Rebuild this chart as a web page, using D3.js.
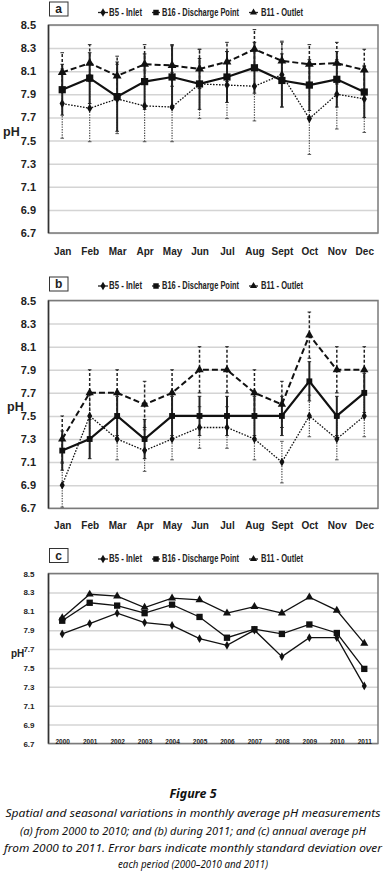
<!DOCTYPE html>
<html>
<head>
<meta charset="utf-8">
<script src="https://cdn.jsdelivr.net/npm/d3@7"></script>
<style>
  body { margin: 0; background: #fff; }
  svg { display: block; }
  .tick text { font-family: "Liberation Sans", Arial, sans-serif; font-weight: bold; fill: #222; }
  .legend text { font-family: "Liberation Sans", Arial, sans-serif; font-weight: bold; font-size: 9.5px; fill: #222; }
  .caption { font-family: "Noto Sans", "Open Sans", sans-serif; font-style: italic; fill: #111; }
</style>
</head>
<body>
<div id="vis"></div>
<script>
/* Figure 5: pH at three sampling points, three panels */

// Categories
var months = ['Jan', 'Feb', 'Mar', 'Apr', 'May', 'Jun', 'Jul', 'Aug', 'Sept', 'Oct', 'Nov', 'Dec'];
var years = ['2000', '2001', '2002', '2003', '2004', '2005', '2006', '2007', '2008', '2009', '2010', '2011'];
var yTicks = [6.7, 6.9, 7.1, 7.3, 7.5, 7.7, 7.9, 8.1, 8.3, 8.5];
var seriesNames = ['B5 - Inlet', 'B16 - Discharge Point', 'B11 - Outlet'];

// (a) monthly averages 2000-2010 with standard deviations
var aB5 = [7.82, 7.78, 7.86, 7.80, 7.79, 7.99, 7.98, 7.97, 8.07, 7.69, 7.90, 7.86];
var aB16 = [7.94, 8.04, 7.88, 8.01, 8.05, 7.99, 8.05, 8.13, 8.02, 7.98, 8.03, 7.92];
var aB11 = [8.09, 8.17, 8.06, 8.16, 8.15, 8.12, 8.18, 8.29, 8.19, 8.16, 8.17, 8.11];
var aB5sd = [0.30, 0.29, 0.30, 0.31, 0.30, 0.30, 0.29, 0.30, 0.28, 0.31, 0.30, 0.29];
var aB16sd = [0.22, 0.22, 0.30, 0.24, 0.27, 0.22, 0.22, 0.22, 0.23, 0.22, 0.24, 0.22];
var aB11sd = [0.17, 0.16, 0.17, 0.17, 0.18, 0.17, 0.17, 0.17, 0.17, 0.17, 0.18, 0.18];

// (b) monthly values during 2011 with standard deviations
var bB5 = [6.9, 7.5, 7.3, 7.2, 7.3, 7.4, 7.4, 7.3, 7.1, 7.5, 7.3, 7.5];
var bB16 = [7.2, 7.3, 7.5, 7.3, 7.5, 7.5, 7.5, 7.5, 7.5, 7.8, 7.5, 7.7];
var bB11 = [7.3, 7.7, 7.7, 7.6, 7.7, 7.9, 7.9, 7.7, 7.6, 8.2, 7.9, 7.9];
var bB5sd = [0.19, 0.18, 0.18, 0.18, 0.18, 0.18, 0.18, 0.18, 0.18, 0.18, 0.18, 0.18];
var bB16sd = [0.17, 0.17, 0.17, 0.17, 0.17, 0.17, 0.17, 0.17, 0.17, 0.17, 0.17, 0.17];
var bB11sd = [0.2, 0.2, 0.2, 0.2, 0.2, 0.2, 0.2, 0.2, 0.2, 0.2, 0.2, 0.2];

// (c) annual averages 2000-2011
var cB5 = [7.86, 7.97, 8.08, 7.98, 7.95, 7.81, 7.74, 7.90, 7.62, 7.82, 7.82, 7.31];
var cB16 = [8.00, 8.19, 8.16, 8.08, 8.17, 8.04, 7.82, 7.91, 7.86, 7.96, 7.87, 7.49];
var cB11 = [8.03, 8.28, 8.26, 8.14, 8.24, 8.22, 8.08, 8.15, 8.08, 8.25, 8.11, 7.76];

var W = 386, H = 873;
var left = 48.5, right = 378;

var svg = d3.select('#vis').append('svg')
    .attr('width', W)
    .attr('height', H);

// line / marker styles per series (B5, B16, B11)
var styles = [
    {dash: '1.6,1.4', width: 1.3, bar: '#555', barDash: '1.4,1.2', barWidth: 1.2, symbol: d3.symbolDiamond},
    {dash: null, width: 2.2, bar: '#222', barDash: null, barWidth: 2, symbol: d3.symbolSquare},
    {dash: '6,3', width: 2, bar: '#222', barDash: '3,2', barWidth: 1.5, symbol: d3.symbolTriangle}
];

var drawPanel = function(o) {
    var g = svg.append('g');

    var xScale = d3.scalePoint()
        .domain(o.cats)
        .range([left, right])
        .padding(0.5);

    var yScale = d3.scaleLinear()
        .domain([6.7, 8.5])
        .range([o.bottom, o.top]);

    // gridlines
    g.append('g')
        .attr('transform', 'translate(' + left + ',0)')
        .call(d3.axisLeft(yScale).tickValues(yTicks).tickSize(-(right - left)).tickFormat(''))
        .call(function(s) { s.select('.domain').remove(); })
        .selectAll('line')
        .attr('stroke', '#d4d4d4')
        .attr('stroke-width', 1.5);

    // plot frame
    g.append('rect')
        .attr('x', left)
        .attr('y', o.top)
        .attr('width', right - left)
        .attr('height', o.bottom - o.top)
        .attr('fill', 'none')
        .attr('stroke', '#7a7a7a')
        .attr('stroke-width', 1.5);
    g.append('line')
        .attr('x1', left).attr('x2', left)
        .attr('y1', o.top).attr('y2', o.bottom)
        .attr('stroke', '#333')
        .attr('stroke-width', 1.5);

    // y axis labels
    g.append('g')
        .attr('transform', 'translate(' + (left - o.yGap) + ',0)')
        .call(d3.axisLeft(yScale).tickValues(yTicks).tickSize(0).tickFormat(d3.format('.1f')))
        .call(function(s) { s.select('.domain').remove(); })
        .selectAll('text')
        .style('font-size', o.yFont + 'px');

    // x axis labels
    g.append('g')
        .attr('transform', 'translate(0,' + o.catY + ')')
        .call(d3.axisBottom(xScale).tickSize(0))
        .call(function(s) { s.select('.domain').remove(); })
        .selectAll('text')
        .attr('dy', 0)
        .style('font-size', o.catFont + 'px');

    // pH title
    g.append('text')
        .attr('x', o.phX)
        .attr('y', o.phY)
        .style('font-family', '"Liberation Sans", Arial, sans-serif')
        .style('font-weight', 'bold')
        .style('font-size', o.phFont + 'px')
        .attr('fill', '#222')
        .text('pH');

    // panel letter in a box
    g.append('rect')
        .attr('x', 49.5).attr('y', o.boxY)
        .attr('width', 18.5).attr('height', 14)
        .attr('fill', '#fff')
        .attr('stroke', '#333')
        .attr('stroke-width', 1);
    g.append('text')
        .attr('x', 58.7)
        .attr('y', o.boxY + 11)
        .attr('text-anchor', 'middle')
        .style('font-family', '"Liberation Sans", Arial, sans-serif')
        .style('font-weight', 'bold')
        .style('font-size', '12px')
        .attr('fill', '#222')
        .text(o.letter);

    // legend: [line start, line end, text start, text width]
    var legX = [[98, 108, 109, 33], [152, 160, 162, 77], [249, 258, 261, 42]];
    var leg = g.append('g').attr('class', 'legend');
    seriesNames.forEach(function(name, i) {
        var cx = (legX[i][0] + legX[i][1]) / 2;
        leg.append('line')
            .attr('x1', legX[i][0]).attr('x2', legX[i][1])
            .attr('y1', o.legendY).attr('y2', o.legendY)
            .attr('stroke', '#222').attr('stroke-width', 1.3);
        leg.append('path')
            .attr('d', d3.symbol(styles[i].symbol, i == 1 ? 30 : 22)())
            .attr('transform', 'translate(' + cx + ',' + o.legendY + ')')
            .attr('fill', '#111');
        leg.append('text')
            .attr('x', legX[i][2])
            .attr('y', o.legendY + 3.4)
            .attr('textLength', legX[i][3])
            .attr('lengthAdjust', 'spacingAndGlyphs')
            .style('font-size', '10px')
            .text(name);
    });

    // error bars
    if (o.sd) {
        o.sd.forEach(function(sd, i) {
            var st = styles[i];
            var eb = g.append('g');
            eb.selectAll('line.bar')
                .data(o.cats)
                .enter().append('line')
                .attr('x1', function(d) { return xScale(d); })
                .attr('x2', function(d) { return xScale(d); })
                .attr('y1', function(d, j) { return yScale(o.data[i][j] - sd[j]); })
                .attr('y2', function(d, j) { return yScale(o.data[i][j] + sd[j]); })
                .attr('stroke', st.bar)
                .attr('stroke-width', st.barWidth)
                .attr('stroke-dasharray', st.barDash);
            [-1, 1].forEach(function(sign) {
                eb.selectAll('line.cap' + sign)
                    .data(o.cats)
                    .enter().append('line')
                    .attr('x1', function(d) { return xScale(d) - 1.8; })
                    .attr('x2', function(d) { return xScale(d) + 1.8; })
                    .attr('y1', function(d, j) { return yScale(o.data[i][j] + sign * sd[j]); })
                    .attr('y2', function(d, j) { return yScale(o.data[i][j] + sign * sd[j]); })
                    .attr('stroke', st.bar)
                    .attr('stroke-width', 1);
            });
        });
    }

    // series lines and markers
    o.data.forEach(function(vals, i) {
        var st = styles[i];
        var line = d3.line()
            .x(function(d, j) { return xScale(o.cats[j]); })
            .y(function(d) { return yScale(d); });

        g.append('path')
            .datum(vals)
            .attr('d', line)
            .attr('fill', 'none')
            .attr('stroke', '#111')
            .attr('stroke-width', o.lineWidth ? o.lineWidth : st.width)
            .attr('stroke-dasharray', o.lineWidth ? null : st.dash);

        g.selectAll('path.m' + i)
            .data(vals)
            .enter().append('path')
            .attr('d', d3.symbol(st.symbol, o.markSize[i])())
            .attr('transform', function(d, j) {
                return 'translate(' + xScale(o.cats[j]) + ',' + yScale(d) + ')';
            })
            .attr('fill', '#111');
    });
};

drawPanel({
    top: 25, bottom: 233, cats: months, letter: 'a', boxY: 2,
    data: [aB5, aB16, aB11], sd: [aB5sd, aB16sd, aB11sd],
    legendY: 12.5, yFont: 11, yGap: 9.5, catFont: 10, catY: 252,
    phX: 3, phY: 135.5, phFont: 12.5, markSize: [24, 52, 34]
});

drawPanel({
    top: 300.5, bottom: 508.3, cats: months, letter: 'b', boxY: 277,
    data: [bB5, bB16, bB11], sd: [bB5sd, bB16sd, bB11sd],
    legendY: 286, yFont: 11, yGap: 9.5, catFont: 10, catY: 525.5,
    phX: 7, phY: 411, phFont: 12.5, markSize: [22, 34, 30]
});

drawPanel({
    top: 573.5, bottom: 743.5, cats: years, letter: 'c', boxY: 548.5,
    data: [cB5, cB16, cB11], sd: null,
    legendY: 559, yFont: 8, yGap: 11, catFont: 6.5, catY: 740.5,
    phX: 11, phY: 656.5, phFont: 10, markSize: [22, 40, 28], lineWidth: 1.3
});

// caption
svg.append('text')
    .attr('class', 'caption')
    .attr('x', 193).attr('y', 798)
    .attr('text-anchor', 'middle')
    .attr('textLength', 47)
    .attr('lengthAdjust', 'spacingAndGlyphs')
    .style('font-weight', 'bold')
    .style('font-size', '13px')
    .text('Figure 5');

var captionLines = [
    ['Spatial and seasonal variations in monthly average pH measurements', 817, 375],
    ['(a) from 2000 to 2010; and (b) during 2011; and (c) annual average pH', 834.5, 346],
    ['from 2000 to 2011. Error bars indicate monthly standard deviation over', 851.5, 378],
    ['each period (2000\u20132010 and 2011)', 868, 150]
];
captionLines.forEach(function(c) {
    svg.append('text')
        .attr('class', 'caption')
        .attr('x', 193).attr('y', c[1])
        .attr('text-anchor', 'middle')
        .attr('textLength', c[2])
        .attr('lengthAdjust', 'spacingAndGlyphs')
        .style('font-size', '10.5px')
        .text(c[0]);
});
</script>
</body>
</html>
